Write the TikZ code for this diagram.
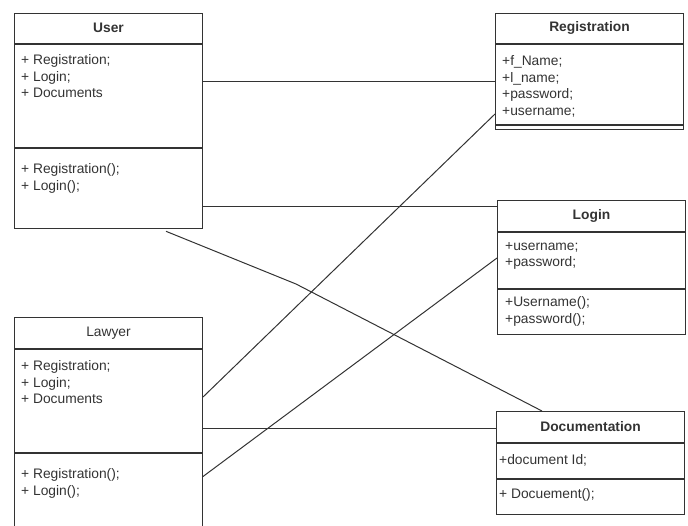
\documentclass[tikz,border=0pt]{standalone}
\usepackage{fontspec}
\setmainfont{Liberation Sans}
\usetikzlibrary{calc}
\tikzset{
  classpart/.style={draw=black!80, line width=1pt, anchor=north west, minimum width=188pt, inner sep=0pt, text=black!80},
  classname/.style={classpart, font=\bfseries\fontsize{13.8}{16.5}\selectfont},
  member/.style={anchor=north west, align=left, inner sep=0pt, text=black!80, font=\fontsize{13.8}{16.5}\selectfont, execute at begin node=\rule{0pt}{10pt}},
  assoc/.style={draw=black!80, line width=1pt}
}
\begin{document}
\begin{tikzpicture}[x=1pt, y=-1pt]
	  \useasboundingbox (0,0) rectangle (688,525);
	  % User
	  \node[classname, minimum height=30pt] (user-head) at (14,12.7) {User};
	  \node[classpart, minimum height=103pt] (user-attr) at (user-head.south west) {};
	  \node[classpart, minimum height=80pt] (user-meth) at (user-attr.south west) {};
	  \node[member] (user-attr-txt) at ($(user-attr.north west)+(7,10.7)$) {+ Registration;\\+ Login;\\+ Documents};
	  \node[member] (user-meth-txt) at ($(user-meth.north west)+(7,15.6)$) {+ Registration();\\+ Login();};
	  % Registration
	  \node[classname, minimum height=30pt] (reg-head) at (495,12.7) {Registration};
	  \node[classpart, minimum height=80pt] (reg-attr) at (reg-head.south west) {};
	  \node[classpart, minimum height=4.3pt] (reg-meth) at (reg-attr.south west) {};
	  \node[member] (reg-attr-txt) at ($(reg-attr.north west)+(7,12)$) {+f\_Name;\\+l\_name;\\+password;\\+username;};
	  % Login
	  \node[classname, minimum height=30.7pt] (login-head) at (497,200) {Login};
	  \node[classpart, minimum height=56pt] (login-attr) at (login-head.south west) {};
	  \node[classpart, minimum height=45pt] (login-meth) at (login-attr.south west) {};
	  \node[member] (login-attr-txt) at ($(login-attr.north west)+(8,10.3)$) {+username;\\+password;};
	  \node[member] (login-meth-txt) at ($(login-meth.north west)+(8,7.6)$) {+Username();\\+password();};
	  % Lawyer
	  \node[classpart, minimum height=30.4pt, font=\fontsize{13.8}{16.5}\selectfont] (law-head) at (14,317.3) {Lawyer};
	  \node[classpart, minimum height=103.3pt] (law-attr) at (law-head.south west) {};
	  \node[classpart, minimum height=80pt] (law-meth) at (law-attr.south west) {};
	  \node[member] (law-attr-txt) at ($(law-attr.north west)+(7,11.6)$) {+ Registration;\\+ Login;\\+ Documents};
	  \node[member] (law-meth-txt) at ($(law-meth.north west)+(7,15.7)$) {+ Registration();\\+ Login();};
	  % Documentation
	  \node[classname, minimum height=30.7pt] (doc-head) at (496,411) {Documentation};
	  \node[classpart, minimum height=35.3pt] (doc-attr) at (doc-head.south west) {};
	  \node[classpart, minimum height=35pt] (doc-meth) at (doc-attr.south west) {};
	  \node[member] (doc-attr-txt) at ($(doc-attr.north west)+(3,11.6)$) {+document Id;};
	  \node[member] (doc-meth-txt) at ($(doc-meth.north west)+(3,9)$) {+ Docuement();};
	  % associations
	  \coordinate (ua) at ($(user-attr.north east)+(0,37.3)$);
	  \coordinate (um) at ($(user-meth.north east)+(0,58.3)$);
	  \coordinate (la) at ($(law-attr.north east)+(0,80)$);
	  \coordinate (bend) at ($(user-meth.south west)+(282,55.3)$);
	  \draw[assoc] (ua) -- (ua -| reg-attr.west);
	  \draw[assoc] ($(law-attr.north east)+(0,48.3)$) -- ($(reg-attr.north west)+(0,70.3)$);
	  \draw[assoc] (um) -- (um -| login-head.west);
	  \draw[assoc] ($(law-meth.north east)+(0,23.5)$) -- ($(login-attr.north west)+(0,26.3)$);
	  \draw[assoc] (la) -- (la -| doc-head.west);
	  \draw[assoc] ($(user-meth.south west)+(152,2.6)$) -- (bend) -- ($(doc-head.north west)+(46,0)$);
	\end{tikzpicture}
\end{document}
